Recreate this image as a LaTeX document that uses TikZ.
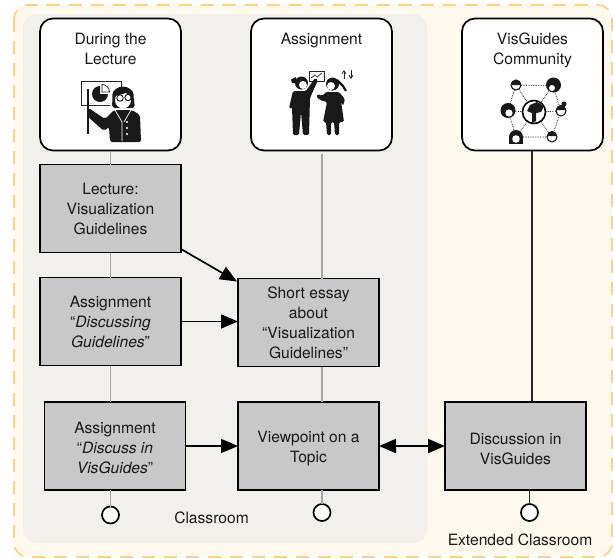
\documentclass[tikz,border=0pt]{standalone}
\usepackage{fontspec}
\setmainfont{TeX Gyre Heros}
\usetikzlibrary{arrows.meta}
\definecolor{outerfill}{HTML}{FEF9EE}
\definecolor{outerdash}{HTML}{FFD27F}
\definecolor{panelfill}{HTML}{F1F0EC}
\definecolor{boxfill}{HTML}{C8C8C8}
\definecolor{linegray}{HTML}{A6A6A6}
\tikzset{
 txt/.style={font=\fontsize{15.6}{20}\selectfont,align=center,text=black!90},
 topbox/.style={draw=black,line width=1.7pt,fill=white,rounded corners=13pt,minimum width=141pt,minimum height=132pt,inner sep=0pt,outer sep=0pt},
 stepbox/.style={draw=black,line width=1.7pt,fill=boxfill,minimum width=141pt,minimum height=88pt,inner sep=0pt,outer sep=0pt,txt},
 endpoint/.style={circle,draw=black,line width=1.7pt,fill=white,minimum size=17pt,inner sep=0pt,outer sep=0pt},
 grayline/.style={draw=linegray,line width=1.9pt},
 blackline/.style={draw=black!85,line width=1.5pt},
 flow/.style={draw=black,line width=1.7pt,-{Triangle[length=17pt,width=14pt]}},
 flowboth/.style={draw=black,line width=1.7pt,{Triangle[length=17pt,width=14pt]}-{Triangle[length=17pt,width=14pt]}},
 thin ink/.style={draw=black!85,line width=0.8pt},
 linkdot/.style={draw=black,line width=0.7pt,densely dotted},
}
\begin{document}
\begin{tikzpicture}[x=1pt,y=-1pt]
\useasboundingbox (0,0) rectangle (614,558);
\fill[white] (0,0) rectangle (614,558);
% backgrounds
\draw[fill=outerfill,draw=outerdash,line width=1.6pt,dash pattern=on 13pt off 9pt,rounded corners=14pt] (14,5) rectangle (612,557);
\fill[panelfill,rounded corners=14pt] (23,14) rectangle (427,543);
% top boxes
\node[topbox,anchor=north west] (lect) at (40,18.5) {};
\node[topbox,anchor=north west] (asg) at (251,18.5) {};
\node[topbox,anchor=north west] (com) at (462,18.5) {};
% step boxes
\node[stepbox,anchor=north west] (guide) at (40,164.5) {Lecture:\\Visualization\\Guidelines};
\node[stepbox,anchor=north west] (disc) at (40,277.5) {Assignment\\“\textit{Discussing}\\\textit{Guidelines}”};
\node[stepbox,anchor=north west] (essay) at (238,278.5) {Short essay\\about\\“Visualization\\Guidelines”};
\node[stepbox,anchor=north west] (dvis) at (44.5,402) {};
\node[stepbox,anchor=north west] (view) at (238,402) {};
\node[stepbox,anchor=north west] (dgui) at (445,402) {};
\node[txt] (dvist) at ([yshift=-1.5pt]dvis.center) {Assignment\\“\textit{Discuss in}\\\textit{VisGuides}”};
\node[txt] (viewt) at ([yshift=-2.5pt]view.center) {Viewpoint on a\\Topic};
\node[txt] (dguit) at ([yshift=-2.5pt]dgui.center) {Discussion in\\VisGuides};
% end circles
\node[endpoint] (e1) at (110.5,515) {};
\node[endpoint] (e2) at (322,512.5) {};
\node[endpoint] (e3) at (529.5,512.5) {};
% labels
\node[txt,anchor=north] (t1) at (110.5,29.5) {During the\\Lecture};
\node[txt,anchor=north] (t2) at (321.5,29.5) {Assignment};
\node[txt,anchor=north] (t3) at (532.5,29.5) {VisGuides\\Community};
\node[txt] (cl) at (211.5,518) {Classroom};
\node[txt] (ecl) at (520,540) {Extended Classroom};
% vertical connectors
\draw[grayline] (lect.south -| e1) -- (guide.north -| e1);
\draw[grayline] (guide.south -| e1) -- (disc.north -| e1);
\draw[grayline] (disc.south -| e1) -- (dvis.north -| e1);
\draw[grayline] (dvis.south -| e1) -- (e1.north);
\draw[grayline] (322,154) -- (essay.north -| e2);
\draw[grayline] (essay.south -| e2) -- (view.north -| e2);
\draw[grayline] (view.south -| e2) -- (e2.north);
\draw[blackline] (com.south -| 532,0) -- (dgui.north -| 532,0);
\draw[blackline] (dgui.south -| e3) -- (e3.north);
% flows
\draw[flow] (guide.east |- 0,249) -- (237,281.5);
\draw[flow] (disc.east) -- (essay.west |- disc.east);
\draw[flow] (dvis.east) -- (view.west |- dvis.east);
\draw[flowboth] (view.east) -- (dgui.west);
% teacher icon
\draw[thin ink] (121,87) -- (121,81) -- (81,81) -- (81,105) -- (110,105);
\draw[draw=black!90,line width=1.8pt] (88,89) -- (88,134);
\fill[black!90] (100,94) -- (108,94) arc (0:270:8) -- cycle;
\draw[thin ink,fill=white] (102,92) -- (102,84.5) arc (-90:0:7.5) -- cycle;
\fill[black!90,rounded corners=3pt] (112,108) -- (112.5,97) arc (180:360:10.5) -- (135,108) -- cycle;
\fill[white] (123,100) ellipse (8pt and 8.5pt);
\fill[black!90] (115,96) -- (118,90) -- (128,90) -- (132,96) -- (126,93) -- cycle;
\draw[draw=black!90,line width=0.9pt] (120,98) circle (3.2pt) (128,97.5) circle (3.2pt);
\fill[black!90,rounded corners=2pt] (89,108) -- (93,111) -- (105,119) -- (114,110) -- (132,110) -- (140,115) -- (141,142) -- (110,142) -- (109,127) -- (104,131) -- (87,116) -- cycle;
\draw[white,line width=0.7pt] (115,110) -- (122,122) -- (122,141) (131,110) -- (124,122);
\fill[white] (127,122) circle (1.2pt) (127,128) circle (1.2pt) (127,134) circle (1.2pt);
% students icon
\draw[thin ink,fill=white] (309,71) rectangle (324,81);
\draw[draw=black!85,line width=0.7pt] (311,78) -- (315,75) -- (317,77) -- (322,73);
\fill[black!90] (301.5,83) circle (6.5pt);
\fill[black!90] (296,77) -- (291,79.5) -- (292,83) -- (297,83) -- cycle;
\fill[white] (303,85) circle (4pt);
\fill[black!90,rounded corners=1.5pt] (293,91) -- (306,91) -- (315,78) -- (318,80) -- (310,98) -- (309,135) -- (303,135) -- (301,112) -- (299,135) -- (293,135) -- (292,107) -- (291,109) -- (289,108) -- cycle;
\fill[black!90] (332.5,84) circle (6.5pt);
\fill[white] (331,86) circle (4pt);
\draw[draw=black!90,line width=2.2pt] (337,80) -- (343,86) -- (346,91);
\fill[black!90,rounded corners=1.5pt] (326,92) -- (339,92) -- (345,99) -- (343,106) -- (341,101) -- (344,122) -- (339,122) -- (339,135) -- (335,135) -- (334,122) -- (331,122) -- (331,135) -- (327,135) -- (326,122) -- (323,122) -- (327,102) -- (320,100) -- (316,96) -- (318,94) -- (322,96) -- cycle;
\draw[draw=black!85,line width=0.8pt,-{Straight Barb[length=3pt,width=4pt]}] (344,79) -- (344,70);
\draw[draw=black!85,line width=0.8pt,-{Straight Barb[length=3pt,width=4pt]}] (351,70) -- (351,79);
% community icon
\draw[linkdot] (516,85) -- (553,86) -- (561,111) -- (552,137) -- (516,137) -- (508,111) -- cycle;
\draw[linkdot] (516,85) -- (534,112) (553,86) -- (534,112) (561,111) -- (534,112) (552,137) -- (534,112) (516,137) -- (534,112) (508,111) -- (534,112);
\draw[draw=black,line width=1.6pt,fill=white] (534,112) circle (11.5pt);
\fill[black!90] (530,105) -- (537,102) -- (544,106) -- (541,112) -- (536,113) -- (536,121) -- (532,123) -- (532,113) -- (527,111) -- cycle;
\draw[draw=black,line width=1pt,fill=white] (516,85) circle (5pt);
\fill[black!90] (511,85) arc (180:360:5) -- cycle;
\fill[black!90] (553.5,85) circle (7.5pt);
\fill[white] (552,88) circle (3pt);
\fill[black!90] (508,110.5) circle (7.5pt);
\fill[white] (509,113) circle (3.6pt);
\draw[draw=black,line width=1pt,fill=white] (561,111) circle (5pt);
\fill[black!90] (556,110) arc (180:360:5) -- cycle;
\fill[black!90] (564,104) circle (2.5pt);
\fill[black!90] (516,137) circle (7pt);
\fill[black!90] (509,137) rectangle (523,144);
\fill[white] (516,139) circle (3.8pt);
\draw[draw=black,line width=1pt,fill=white] (552,137) circle (5pt);
\fill[black!90] (547,136) arc (180:360:5) -- cycle;
\end{tikzpicture}
\end{document}
